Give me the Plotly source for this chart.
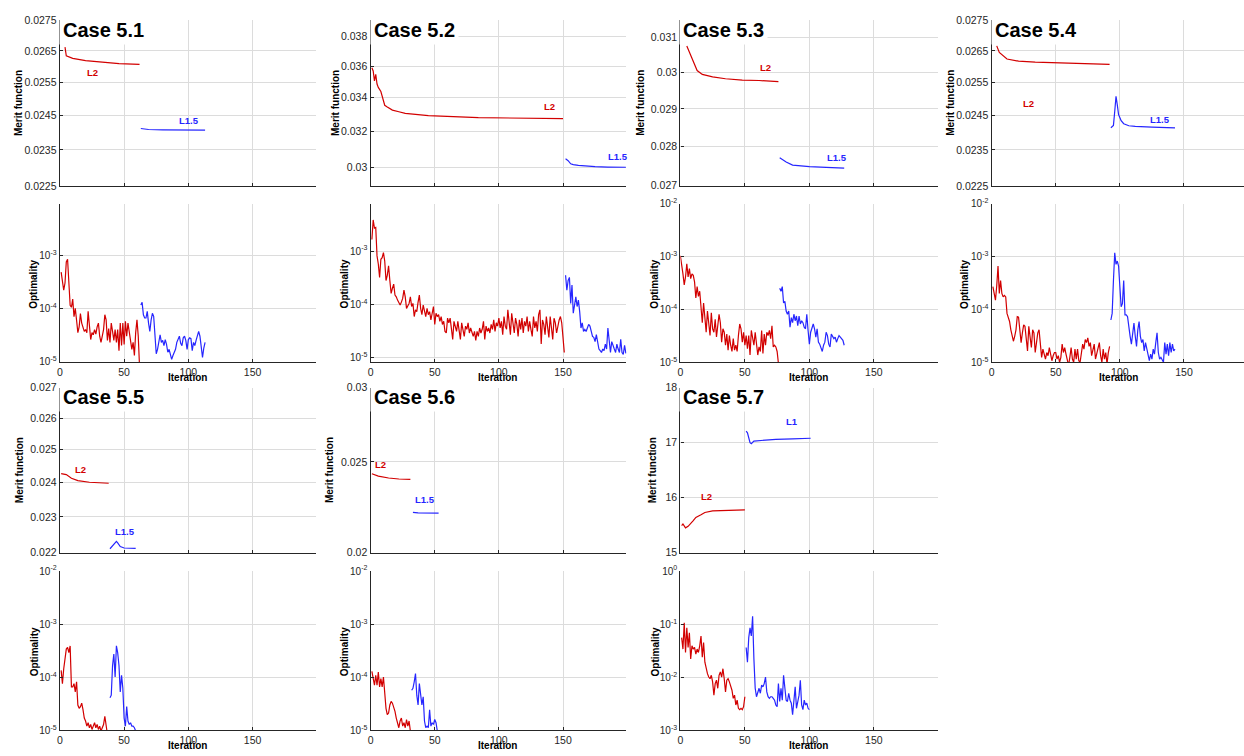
import math
import plotly.graph_objects as go

# ---------------- data ----------------
iter_ticks = [0, 50, 100, 150]

# Case 5.1
c51_l2_iter = [4, 5, 10, 20, 33, 46, 62]
c51_l2_merit = [0.02662, 0.02634, 0.02626, 0.02619, 0.02614, 0.02609, 0.02607]
c51_l15_iter = [63, 69, 80, 113]
c51_l15_merit = [0.02412, 0.02409, 0.02408, 0.02407]
c51_l2_opt_start = 1
c51_l2_opt = [4.8e-4, 3.5e-4, 2.2e-4, 3.0e-4, 7.5e-4, 8.4e-4, 3.0e-4, 1.15e-4, 1.05e-4, 1.5e-4,
              7e-5, 1.0e-4, 6e-5, 3.5e-5, 4.5e-5, 8e-5, 5.3e-5, 4.2e-5, 3.7e-5, 4.0e-5,
              3.5e-5, 8.8e-5, 4.5e-5, 2.6e-5, 3.5e-5, 3.2e-5, 4.0e-5, 3.3e-5, 4.5e-5, 5.3e-5,
              3.0e-5, 2.3e-5, 3.0e-5, 4.0e-5, 7.6e-5, 6.1e-5, 2.5e-5, 4.2e-5, 2.3e-5, 5.3e-5,
              3.7e-5, 2.5e-5, 4.0e-5, 2.3e-5, 4.0e-5, 1.6e-5, 5.3e-5, 2.0e-5, 5.3e-5, 2.1e-5,
              5.7e-5, 3.0e-5, 5.3e-5, 3.5e-5, 2.5e-5, 1.7e-5, 2.3e-5, 1.3e-5, 3.5e-5, 6.1e-5,
              3.0e-5, 8e-6]
c51_l15_opt_start = 63
c51_l15_opt = [1.16e-4, 1.3e-4, 7.6e-5, 6.6e-5, 6.6e-5, 8.8e-5, 5.3e-5, 3.7e-5, 6e-5, 8.1e-5,
               7.1e-5, 3e-5, 1.4e-5, 1.7e-5, 2.5e-5, 3.2e-5, 2.3e-5, 2.5e-5, 2.0e-5, 2.6e-5,
               2.1e-5, 1.5e-5, 1.7e-5, 1.4e-5, 1.1e-5, 1.3e-5, 1.5e-5, 1.7e-5, 2.3e-5, 2.6e-5,
               3.0e-5, 2.2e-5, 2.0e-5, 2.8e-5, 3.0e-5, 2.5e-5, 1.7e-5, 2.6e-5, 2.8e-5, 2.7e-5,
               1.6e-5, 2.3e-5, 2.0e-5, 2.5e-5, 3.2e-5, 3.7e-5, 3.0e-5, 1.6e-5, 1.2e-5, 1.8e-5,
               2.3e-5]
c51_merit_ticks = [0.0225, 0.0235, 0.0245, 0.0255, 0.0265, 0.0275]

# Case 5.2
c52_l2_iter = [1, 2, 3, 4, 5, 6, 8, 9, 11, 13, 17, 22, 27, 45, 84, 150]
c52_l2_merit = [0.03589, 0.03568, 0.03505, 0.03547, 0.03485, 0.03464, 0.03438, 0.03404,
                0.03354, 0.03344, 0.03325, 0.03315, 0.03305, 0.03292, 0.03280, 0.03274]
c52_l15_iter = [152, 154, 156, 158, 162, 168, 175, 185, 199]
c52_l15_merit = [0.03045, 0.03035, 0.03018, 0.03013, 0.03009, 0.03004, 0.03002, 0.03000, 0.02999]
c52_l2_opt_start = 1
c52_l2_opt = [1.64e-3, 3.83e-3, 2.7e-3, 2.77e-3, 8.1e-4, 5.7e-4, 3.2e-4, 7.0e-4, 7.5e-4, 9.3e-4,
              6.5e-4, 2.8e-4, 3.5e-4, 5.3e-4, 2.8e-4, 1.6e-4, 2.0e-4, 2.4e-4, 1.49e-4, 1.38e-4,
              1.2e-4, 1.04e-4, 9.7e-5, 1.1e-4, 1.29e-4, 1.84e-4, 1.38e-4, 8.4e-5, 9.1e-5, 1.04e-4,
              1.38e-4, 9.1e-5, 1.04e-4, 5.9e-5, 7.9e-5, 7.3e-5, 1.1e-4, 1.49e-4, 8.4e-5, 6.4e-5,
              9.7e-5, 7.3e-5, 5.9e-5, 8.4e-5, 6.4e-5, 7.3e-5, 5.1e-5, 6.8e-5, 9.1e-5, 4.2e-5,
              6.8e-5, 5.9e-5, 6.4e-5, 4.8e-5, 5.9e-5, 4.2e-5, 4.8e-5, 3.1e-5, 2.9e-5, 5.5e-5,
              4.5e-5, 5.5e-5, 3.6e-5, 2.2e-5, 4.8e-5, 3.9e-5, 3.1e-5, 4.8e-5, 2.9e-5, 2.2e-5,
              4.5e-5, 3.4e-5, 2.5e-5, 3.9e-5, 3.4e-5, 4.5e-5, 2.9e-5, 3.6e-5, 2.9e-5, 2.5e-5,
              3.1e-5, 2.1e-5, 3.1e-5, 2.5e-5, 3.6e-5, 2.9e-5, 3.4e-5, 4.8e-5, 2.2e-5, 3.9e-5,
              3.1e-5, 3.6e-5, 2.9e-5, 4.2e-5, 3.4e-5, 5.1e-5, 3.1e-5, 4.5e-5, 3.9e-5, 5.5e-5,
              3.6e-5, 4.8e-5, 2.7e-5, 5.9e-5, 3.9e-5, 3.4e-5, 7.9e-5, 4.5e-5, 2.7e-5, 6.8e-5,
              3.9e-5, 2.9e-5, 5.5e-5, 4.2e-5, 2.5e-5, 5.1e-5, 3.4e-5, 5.5e-5, 2.9e-5, 4.8e-5,
              3.9e-5, 5.9e-5, 3.1e-5, 4.8e-5, 3.4e-5, 2.5e-5, 5.9e-5, 3.6e-5, 4.8e-5, 3.1e-5,
              6.4e-5, 7.9e-5, 1.8e-5, 5.1e-5, 4.2e-5, 2.7e-5, 5.9e-5, 3.6e-5, 2.4e-5, 5.9e-5,
              3.4e-5, 2.2e-5, 5.5e-5, 4.5e-5, 2.9e-5, 4.2e-5, 5.1e-5, 5.9e-5, 4.5e-5, 2.4e-5,
              1.25e-5]
c52_l15_opt_start = 152
c52_l15_opt = [3.5e-4, 1.84e-4, 2.8e-4, 3.2e-4, 1.04e-4, 2.3e-4, 6.8e-5, 1.04e-4, 1.38e-4, 9.1e-5,
               1.2e-4, 7.3e-5, 3.6e-5, 4.5e-5, 3.1e-5, 3.4e-5, 3.1e-5, 3.6e-5, 4.2e-5, 3.9e-5,
               2.9e-5, 2.5e-5, 2.4e-5, 2.0e-5, 2.7e-5, 1.9e-5, 1.45e-5, 1.35e-5, 1.25e-5, 1.45e-5,
               1.35e-5, 1.8e-5, 1.45e-5, 3.6e-5, 1.8e-5, 1.25e-5, 2.0e-5, 1.6e-5, 1.45e-5, 1.25e-5,
               1.8e-5, 1.45e-5, 1.25e-5, 2.2e-5, 1.25e-5, 1.15e-5, 1.7e-5, 1.2e-5]
c52_merit_ticks = [0.030, 0.032, 0.034, 0.036, 0.038]

# Case 5.3
c53_l2_iter = [5, 10, 13, 17, 25, 35, 48, 61, 76]
c53_l2_merit = [0.03076, 0.03029, 0.03006, 0.02995, 0.02988, 0.02983, 0.02979, 0.02978, 0.02975]
c53_l15_iter = [77, 79, 82, 87, 95, 100, 113, 127]
c53_l15_merit = [0.02770, 0.02765, 0.02759, 0.02751, 0.02748, 0.02747, 0.02745, 0.02743]
c53_l2_opt_start = 0
c53_l2_opt = [1.03e-3, 7.3e-4, 4.7e-4, 2.9e-4, 4.1e-4, 7.3e-4, 4.1e-4, 5.9e-4, 3.8e-4, 4.7e-4,
              4.4e-4, 3.3e-4, 1.64e-4, 2.7e-4, 1.76e-4, 2.2e-4, 1.07e-4, 5.6e-5, 1.32e-4, 6.5e-5,
              3.7e-5, 9.3e-5, 4.6e-5, 3.2e-5, 8.6e-5, 4.3e-5, 3.7e-5, 6.5e-5, 3.0e-5, 5.6e-5,
              8.1e-5, 5.6e-5, 2.4e-5, 4.3e-5, 3.7e-5, 2.1e-5, 3.4e-5, 1.7e-5, 3.2e-5, 2.1e-5,
              1.6e-5, 2.8e-5, 1.7e-5, 2.1e-5, 1.6e-5, 3.2e-5, 5.3e-5, 4.3e-5, 2.4e-5, 3.7e-5,
              2.1e-5, 3.2e-5, 1.8e-5, 3.2e-5, 1.37e-5, 4.0e-5, 2.8e-5, 2.1e-5, 3.7e-5, 2.4e-5,
              1.37e-5, 1.95e-5, 1.6e-5, 4.0e-5, 1.47e-5, 3.4e-5, 2.1e-5, 3.7e-5, 3.2e-5, 4.0e-5,
              2.8e-5, 4.9e-5, 1.95e-5, 2.1e-5, 1.95e-5, 1.6e-5, 9.6e-6]
c53_l15_opt_start = 77
c53_l15_opt = [2.5e-4, 2.2e-4, 2.7e-4, 1.32e-4, 1.42e-4, 9.3e-5, 8.1e-5, 9.3e-5, 4.6e-5, 7.0e-5,
               5.6e-5, 8.1e-5, 6.1e-5, 7.5e-5, 4.9e-5, 7.5e-5, 5.3e-5, 6.1e-5, 5.6e-5, 4.6e-5,
               4.3e-5, 8.1e-5, 4.0e-5, 2.2e-5, 3.7e-5, 4.6e-5, 5.3e-5, 4.3e-5, 3.0e-5, 4.3e-5,
               2.4e-5, 2.2e-5, 1.8e-5, 1.6e-5, 2.1e-5, 2.4e-5, 3.7e-5, 3.2e-5, 2.2e-5, 1.95e-5,
               3.4e-5, 3.0e-5, 2.8e-5, 3.0e-5, 2.4e-5, 2.8e-5, 3.2e-5, 3.0e-5, 2.8e-5, 2.6e-5,
               2.1e-5]
c53_merit_ticks = [0.027, 0.028, 0.029, 0.030, 0.031]

# Case 5.4
c54_l2_iter = [4, 6, 12, 21, 34, 60, 92]
c54_l2_merit = [0.02666, 0.02645, 0.02624, 0.02617, 0.02614, 0.02610, 0.02607]
c54_l15_iter = [93, 95, 96, 97, 98, 99, 101, 103, 107, 112, 125, 143]
c54_l15_merit = [0.02414, 0.02421, 0.02462, 0.02508, 0.02482, 0.02453, 0.02435, 0.02426,
                 0.02420, 0.02418, 0.02416, 0.02414]
c54_l2_opt_start = 1
c54_l2_opt = [2.7e-4, 1.84e-4, 1.49e-4, 2.8e-4, 6.6e-4, 2.0e-4, 3.5e-4, 2.0e-4, 1.72e-4, 1.84e-4,
              1.72e-4, 8.4e-5, 7.3e-5, 5.9e-5, 4.1e-5, 3.1e-5, 2.5e-5, 3.1e-5, 4.1e-5, 7.3e-5,
              7.1e-5, 4.1e-5, 2.35e-5, 3.6e-5, 5.1e-5, 4.8e-5, 3.1e-5, 1.64e-5, 4.8e-5, 3.1e-5,
              1.9e-5, 4.1e-5, 3.6e-5, 1.53e-5, 2.35e-5, 3.6e-5, 4.1e-5, 2.35e-5, 1.24e-5, 1.77e-5,
              1.43e-5, 1.15e-5, 1.53e-5, 1.33e-5, 1.9e-5, 1.33e-5, 1.07e-5, 1.33e-5, 1.53e-5, 1.53e-5,
              1.15e-5, 1.33e-5, 1.0e-5, 1.24e-5, 2.2e-5, 1.53e-5, 1.9e-5, 1.43e-5, 1.15e-5, 8.7e-6,
              1.24e-5, 1.9e-5, 1.15e-5, 1.0e-5, 1.77e-5, 1.15e-5, 1.77e-5, 1.07e-5, 1.0e-5, 1.53e-5,
              2.2e-5, 1.77e-5, 2.7e-5, 2.35e-5, 2.9e-5, 2.0e-5, 2.35e-5, 1.33e-5, 1.77e-5, 2.2e-5,
              1.15e-5, 1.53e-5, 1.77e-5, 2.35e-5, 1.33e-5, 1.0e-5, 1.77e-5, 1.15e-5, 1.53e-5, 9.3e-6,
              1.53e-5, 2.0e-5]
c54_l15_opt_start = 93
c54_l15_opt = [6.3e-5, 8.4e-5, 3.5e-4, 1.17e-3, 7.1e-4, 8.2e-4, 6.6e-4, 3.3e-4, 1.12e-4, 1.29e-4,
               3.5e-4, 7.9e-5, 7.9e-5, 7.3e-5, 4.1e-5, 3.1e-5, 2.2e-5, 4.1e-5, 5.5e-5, 3.1e-5,
               2.0e-5, 4.1e-5, 5.9e-5, 3.1e-5, 2.35e-5, 2.7e-5, 1.64e-5, 2.35e-5, 1.77e-5, 1.33e-5,
               1.07e-5, 1.43e-5, 1.15e-5, 1.77e-5, 1.43e-5, 2.35e-5, 3.6e-5, 1.53e-5, 1.15e-5, 1.24e-5,
               1.07e-5, 1.0e-5, 2.35e-5, 1.43e-5, 2.2e-5, 1.33e-5, 2.35e-5, 1.53e-5, 2.2e-5, 1.64e-5,
               1.77e-5]
c54_merit_ticks = [0.0225, 0.0235, 0.0245, 0.0255, 0.0265, 0.0275]

# Case 5.5
c55_l2_iter = [1, 5, 9, 14, 23, 38]
c55_l2_merit = [0.02427, 0.02424, 0.02413, 0.02406, 0.02401, 0.02398]
c55_l15_iter = [39, 42, 44, 45, 47, 50, 59]
c55_l15_merit = [0.02211, 0.02225, 0.02231, 0.02227, 0.02217, 0.02213, 0.02212]
c55_l2_opt_start = 1
c55_l2_opt = [1.35e-4, 7.6e-5, 1.45e-4, 2.55e-4, 3.4e-4, 3.65e-4, 2.9e-4, 3.9e-4, 6.6e-5, 6.6e-5,
              7.6e-5, 5.3e-5, 8.2e-5, 3.0e-5, 2.6e-5, 2.8e-5, 3.25e-5, 2.45e-5, 1.7e-5, 1.5e-5,
              1.2e-5, 1.39e-5, 1.12e-5, 1.29e-5, 1.04e-5, 1.2e-5, 1.39e-5, 1.12e-5, 1.29e-5, 1.04e-5,
              1.2e-5, 9.7e-6, 1.12e-5, 1.29e-5, 1.84e-5, 1.12e-5, 8.4e-6]
c55_l15_opt_start = 39
c55_l15_opt = [4.1e-5, 4.6e-5, 1.67e-4, 2.75e-4, 1.01e-4, 3.9e-4, 2.9e-4, 1.67e-4, 5.3e-5, 1.09e-4,
               6.2e-5, 1.7e-5, 1.2e-5, 2.8e-5, 1.5e-5, 1.29e-5, 1.39e-5, 1.2e-5, 1.2e-5, 1.12e-5,
               9.7e-6]
c55_merit_ticks = [0.022, 0.023, 0.024, 0.025, 0.026, 0.027]

# Case 5.6
c56_l2_iter = [1, 6, 14, 22, 31]
c56_l2_merit = [0.02428, 0.02414, 0.02403, 0.02397, 0.02395]
c56_l15_iter = [33, 37, 53]
c56_l15_merit = [0.02209, 0.02206, 0.02204]
c56_l2_opt_start = 1
c56_l2_opt = [1.29e-4, 9.4e-5, 7.1e-5, 1.09e-4, 7.1e-5, 1.25e-4, 6.6e-5, 9.4e-5, 6.6e-5, 1.01e-4,
              4.6e-5, 2.6e-5, 1.98e-5, 2.12e-5, 3.0e-5, 3.5e-5, 3.25e-5, 2.8e-5, 2.28e-5, 1.7e-5,
              1.29e-5, 1.12e-5, 1.5e-5, 1.7e-5, 1.2e-5, 1.39e-5, 1.12e-5, 1.6e-5, 1.2e-5, 1.5e-5,
              9.7e-6]
c56_l15_opt_start = 32
c56_l15_opt = [5.7e-5, 6.2e-5, 8.2e-5, 1.17e-4, 4.6e-5, 3.0e-5, 7.6e-5, 4.6e-5, 3.0e-5, 4.3e-5,
               1.5e-5, 1.12e-5, 1.2e-5, 1.12e-5, 2.45e-5, 1.2e-5, 1.39e-5, 1.29e-5, 1.6e-5, 1.39e-5,
               9.7e-6]
c56_merit_ticks = [0.020, 0.025, 0.030]

# Case 5.7
c57_l2_iter = [1, 2, 4, 6, 10, 12, 16, 19, 25, 35, 50]
c57_l2_merit = [15.494, 15.524, 15.452, 15.48, 15.583, 15.643, 15.69, 15.732, 15.762, 15.774, 15.78]
c57_l1_iter = [51, 52, 54, 55, 57, 61, 74, 87, 101]
c57_l1_merit = [17.21, 17.18, 17.0, 16.98, 17.03, 17.04, 17.06, 17.07, 17.08]
c57_l2_opt_start = 1
c57_l2_opt = [0.0558, 0.034, 0.106, 0.0294, 0.0855, 0.0365, 0.0692, 0.0222, 0.0392, 0.034,
              0.0365, 0.0274, 0.034, 0.0294, 0.0392, 0.060, 0.0238, 0.0451, 0.0192, 0.0145,
              0.0117, 0.0101, 0.0094, 0.0109, 0.0082, 0.0046, 0.0076, 0.0088, 0.0062, 0.0109,
              0.0126, 0.0101, 0.0145, 0.0094, 0.0053, 0.0088, 0.0094, 0.0082, 0.0066, 0.0057,
              0.0040, 0.0046, 0.0030, 0.0037, 0.0026, 0.00245, 0.0026, 0.00245, 0.0028, 0.0043]
c57_l1_opt_start = 51
c57_l1_opt = [0.0365, 0.0192, 0.0558, 0.0855, 0.060, 0.141, 0.0222, 0.0062, 0.0043, 0.0053,
              0.0062, 0.0050, 0.0071, 0.0066, 0.0076, 0.0101, 0.0053, 0.0043, 0.0040, 0.0043,
              0.0043, 0.0040, 0.0037, 0.0030, 0.0028, 0.0076, 0.0035, 0.0062, 0.0037, 0.0109,
              0.0066, 0.0037, 0.0035, 0.0050, 0.0037, 0.00325, 0.00198, 0.0046, 0.0066, 0.0026,
              0.0035, 0.0046, 0.0088, 0.0030, 0.00245, 0.0037, 0.0030, 0.00325, 0.0026, 0.00245]
c57_merit_ticks = [15, 16, 17, 18]

# ---------------- styling / layout ----------------
W, H = 1244, 756
FONT = "Liberation Sans, Arial, Helvetica, sans-serif"
RED = "#d20000"
BLUE = "#2626ff"
GRID = "#dcdcdc"
AXC = "#262626"

COLS = [(57, 314), (368.5, 625), (679, 937), (991, 1244)]
XMAX = [199.5, 199.5, 199.5, 196.8]
MERIT_ROWS = [(13.5, 182), (387.3, 555.3)]
OPT_ROWS = [(200, 361.5), (574, 736)]

cases = [
    dict(name="Case 5.1", col=0, row=0,
         s1=(c51_l2_iter, c51_l2_merit, c51_l2_opt_start, c51_l2_opt),
         s2=(c51_l15_iter, c51_l15_merit, c51_l15_opt_start, c51_l15_opt),
         mticks=c51_merit_ticks, mrange=(0.0225, 0.0275), mlog=True, orange=(-5.013, -2.028),
         lab=[("L2", RED, 90, 66.7), ("L1.5", BLUE, 186.7, 115.7)],
         mtitle_x=15, otitle_x=31),
    dict(name="Case 5.2", col=1, row=0,
         s1=(c52_l2_iter, c52_l2_merit, c52_l2_opt_start, c52_l2_opt),
         s2=(c52_l15_iter, c52_l15_merit, c52_l15_opt_start, c52_l15_opt),
         mticks=c52_merit_ticks, mrange=(0.0290, 0.0391), mlog=True, orange=(-5.087, -2.11),
         lab=[("L2", RED, 547.7, 101), ("L1.5", BLUE, 616, 151.7)],
         mtitle_x=332.7, otitle_x=342.3),
    dict(name="Case 5.3", col=2, row=0,
         s1=(c53_l2_iter, c53_l2_merit, c53_l2_opt_start, c53_l2_opt),
         s2=(c53_l15_iter, c53_l15_merit, c53_l15_opt_start, c53_l15_opt),
         mticks=c53_merit_ticks, mrange=(0.02698, 0.03151), mlog=True, orange=(-5.0, -2.0),
         lab=[("L2", RED, 764.3, 61.7), ("L1.5", BLUE, 835.7, 152.7)],
         mtitle_x=638.3, otitle_x=653.3),
    dict(name="Case 5.4", col=3, row=0,
         s1=(c54_l2_iter, c54_l2_merit, c54_l2_opt_start, c54_l2_opt),
         s2=(c54_l15_iter, c54_l15_merit, c54_l15_opt_start, c54_l15_opt),
         mticks=c54_merit_ticks, mrange=(0.0225, 0.0275), mlog=True, orange=(-5.0, -2.0),
         lab=[("L2", RED, 1028.3, 97.7), ("L1.5", BLUE, 1160, 114)],
         mtitle_x=949, otitle_x=964.3),
    dict(name="Case 5.5", col=0, row=1,
         s1=(c55_l2_iter, c55_l2_merit, c55_l2_opt_start, c55_l2_opt),
         s2=(c55_l15_iter, c55_l15_merit, c55_l15_opt_start, c55_l15_opt),
         mticks=c55_merit_ticks, mrange=(0.022, 0.027), mlog=True, orange=(-5.0, -2.0),
         lab=[("L2", RED, 77.3, 470.7), ("L1.5", BLUE, 122.7, 534)],
         mtitle_x=16, otitle_x=31.7),
    dict(name="Case 5.6", col=1, row=1,
         s1=(c56_l2_iter, c56_l2_merit, c56_l2_opt_start, c56_l2_opt),
         s2=(c56_l15_iter, c56_l15_merit, c56_l15_opt_start, c56_l15_opt),
         mticks=c56_merit_ticks, mrange=(0.020, 0.030), mlog=True, orange=(-5.0, -2.0),
         lab=[("L2", RED, 378.3, 465), ("L1.5", BLUE, 422.7, 500.7)],
         mtitle_x=326.7, otitle_x=342.3),
    dict(name="Case 5.7", col=2, row=1,
         s1=(c57_l2_iter, c57_l2_merit, c57_l2_opt_start, c57_l2_opt),
         s2=(c57_l1_iter, c57_l1_merit, c57_l1_opt_start, c57_l1_opt),
         mticks=c57_merit_ticks, mrange=(15, 18), mlog=False, orange=(-3.0, 0.0),
         lab=[("L2", RED, 705, 498.3), ("L1", BLUE, 790.7, 421.7)],
         mtitle_x=650.7, otitle_x=654.3),
]


def px(x):
    return x / W


def py(y):
    return 1 - y / H


fig = go.Figure()
layout = dict(width=W, height=H, margin=dict(l=0, r=0, t=0, b=0, pad=0),
              paper_bgcolor="white", plot_bgcolor="white", showlegend=False,
              font=dict(family=FONT, size=10.5, color=AXC))
annotations = []


def fmt(v):
    return ("%g" % v)


for i, c in enumerate(cases):
    col, row = c["col"], c["row"]
    x0, x1 = COLS[col]
    for j, is_opt in enumerate([False, True]):
        k = 2 * i + 1 + j
        xname = "xaxis" if k == 1 else "xaxis%d" % k
        yname = "yaxis" if k == 1 else "yaxis%d" % k
        xref = "x" if k == 1 else "x%d" % k
        yref = "y" if k == 1 else "y%d" % k
        y0, y1 = (OPT_ROWS if is_opt else MERIT_ROWS)[row]
        layout[xname] = dict(
            domain=[px(x0), px(x1)], range=[0, XMAX[col]], anchor=yref,
            tickmode="array", tickvals=iter_ticks, ticktext=[str(t) for t in iter_ticks],
            showticklabels=is_opt, showgrid=True, gridcolor=GRID, gridwidth=1,
            showline=True, linecolor=AXC, linewidth=1.4, ticks="inside", ticklen=3,
            tickcolor=AXC, tickwidth=1, zeroline=False, tickfont=dict(size=10.5, color=AXC),
            fixedrange=True)
        if is_opt:
            lo, hi = c["orange"]
            exps = [e for e in range(-6, 2) if lo - 1e-9 <= e <= hi + 1e-9]
            layout[yname] = dict(
                domain=[py(y1), py(y0)], type="log", range=[lo, hi], anchor=xref,
                tickmode="array", tickvals=[10.0 ** e for e in exps],
                ticktext=["10<sup>%d</sup>" % e for e in exps],
                showgrid=True, gridcolor=GRID, gridwidth=1, showline=True, linecolor=AXC,
                linewidth=1.4, ticks="inside", ticklen=3, tickcolor=AXC, zeroline=False,
                tickfont=dict(size=10, color=AXC), fixedrange=True)
        else:
            lo, hi = c["mrange"]
            if c["mlog"]:
                rng = [math.log10(lo), math.log10(hi)]
                typ = "log"
            else:
                rng = [lo, hi]
                typ = "linear"
            layout[yname] = dict(
                domain=[py(y1), py(y0)], type=typ, range=rng, anchor=xref,
                tickmode="array", tickvals=c["mticks"], ticktext=[fmt(t) for t in c["mticks"]],
                showgrid=True, gridcolor=GRID, gridwidth=1, showline=True, linecolor=AXC,
                linewidth=1.4, ticks="inside", ticklen=3, tickcolor=AXC, zeroline=False,
                tickfont=dict(size=10.5, color=AXC), fixedrange=True)

        for (its, merit, ostart, opt), color in [(c["s1"], RED), (c["s2"], BLUE)]:
            if is_opt:
                xs = list(range(ostart, ostart + len(opt)))
                ys = opt
            else:
                xs, ys = its, merit
            fig.add_trace(go.Scatter(x=xs, y=ys, mode="lines", xaxis=xref, yaxis=yref,
                                     line=dict(color=color, width=1.2), hoverinfo="skip"))

    # case title (white box covers the grid behind it)
    mt = MERIT_ROWS[row][0]
    annotations.append(dict(text="<b>%s</b>" % c["name"], xref="paper", yref="paper",
                            x=px(x0 - 1), y=py(mt + 10), xanchor="left", yanchor="middle",
                            showarrow=False, bgcolor="white", borderpad=3,
                            font=dict(family=FONT, size=20, color="black")))
    # series labels
    for txt, colr, lx, ly in c["lab"]:
        annotations.append(dict(text="<b>%s</b>" % txt, xref="paper", yref="paper",
                                x=px(lx), y=py(ly), xanchor="center", yanchor="middle",
                                showarrow=False, font=dict(family=FONT, size=9.5, color=colr)))
    # axis titles
    my0, my1 = MERIT_ROWS[row]
    oy0, oy1 = OPT_ROWS[row]
    annotations.append(dict(text="<b>Merit function</b>", xref="paper", yref="paper",
                            x=px(c["mtitle_x"]), y=py((my0 + my1) / 2), textangle=-90,
                            xanchor="center", yanchor="middle", showarrow=False,
                            font=dict(family=FONT, size=10, color="black")))
    annotations.append(dict(text="<b>Optimality</b>", xref="paper", yref="paper",
                            x=px(c["otitle_x"]), y=py((oy0 + oy1) / 2 + 1), textangle=-90,
                            xanchor="center", yanchor="middle", showarrow=False,
                            font=dict(family=FONT, size=10, color="black")))
    itx = x0 + (x1 - x0) * 100.0 / XMAX[col] - 1
    annotations.append(dict(text="<b>Iteration</b>", xref="paper", yref="paper",
                            x=px(itx), y=py(oy1 + 15), xanchor="center", yanchor="middle",
                            showarrow=False, font=dict(family=FONT, size=10, color="black")))

layout["annotations"] = annotations
fig.update_layout(**layout)
fig.write_html("out.html")
